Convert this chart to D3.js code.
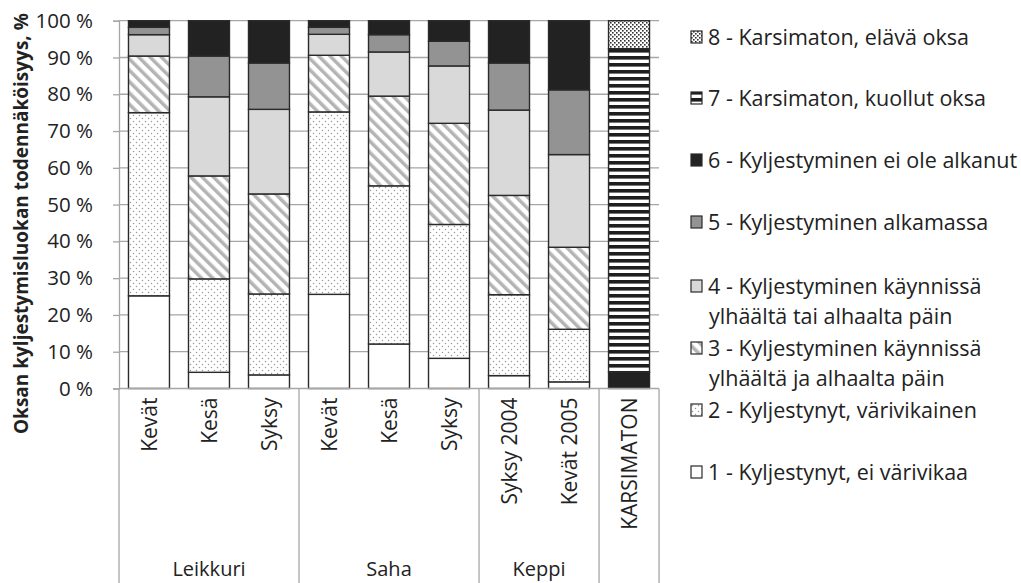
<!DOCTYPE html>
<html>
<head>
<meta charset="utf-8">
<script src="https://cdn.jsdelivr.net/npm/d3@7"></script>
<style>
  body { margin: 0; background: #fff; }
  text { font-family: "Open Sans", Lato, sans-serif; fill: #222; }
</style>
</head>
<body>
<svg id="chart" width="1021" height="583"></svg>
<script>
// categories (inner level) and their groups (outer level)
const categories = ['Kevät', 'Kesä', 'Syksy', 'Kevät', 'Kesä', 'Syksy', 'Syksy 2004', 'Kevät 2005', 'KARSIMATON'];
const groups = ['Leikkuri', 'Leikkuri', 'Leikkuri', 'Saha', 'Saha', 'Saha', 'Keppi', 'Keppi', ''];

// share of each class, %
const class1 = [25.2, 4.4, 3.7, 25.6, 12.1, 8.2, 3.5, 1.8, 0];
const class2 = [49.8, 25.4, 22.0, 49.6, 43.0, 36.4, 22.0, 14.3, 0];
const class3 = [15.4, 28.0, 27.2, 15.4, 24.4, 27.5, 27.0, 22.3, 0];
const class4 = [5.8, 21.5, 23.0, 5.7, 12.0, 15.6, 23.2, 25.2, 0];
const class5 = [2.0, 11.1, 12.6, 1.9, 4.7, 6.7, 12.8, 17.6, 0];
const class6 = [1.8, 9.6, 11.5, 1.8, 3.8, 5.6, 11.5, 18.8, 4.4];
const class7 = [0, 0, 0, 0, 0, 0, 0, 0, 88.0];
const class8 = [0, 0, 0, 0, 0, 0, 0, 0, 7.6];

const classNames = [
  ['1 - Kyljestynyt, ei värivikaa'],
  ['2 - Kyljestynyt, värivikainen'],
  ['3 - Kyljestyminen käynnissä', 'ylhäältä ja alhaalta päin'],
  ['4 - Kyljestyminen käynnissä', 'ylhäältä tai alhaalta päin'],
  ['5 - Kyljestyminen alkamassa'],
  ['6 - Kyljestyminen ei ole alkanut'],
  ['7 - Karsimaton, kuollut oksa'],
  ['8 - Karsimaton, elävä oksa']
];
const yTicks = [0, 10, 20, 30, 40, 50, 60, 70, 80, 90, 100];

const series = [class1, class2, class3, class4, class5, class6, class7, class8];
const keys = series.map((s, i) => 'c' + (i + 1));
const rows = categories.map((c, j) => {
  const r = { idx: j };
  series.forEach((s, i) => r[keys[i]] = s[j]);
  return r;
});

const svg = d3.select('#chart');
const plotLeft = 119, plotRight = 659, plotTop = 20.7, plotBottom = 388.5;
const fontSize = 21;

const x = d3.scaleBand().domain(d3.range(categories.length)).range([plotLeft, plotRight])
  .paddingInner(0.317).paddingOuter(0.158);
const y = d3.scaleLinear().domain([0, 100]).range([plotBottom, plotTop]);

// patterns
const defs = svg.append('defs');
const p2 = defs.append('pattern').attr('id', 'f2').attr('patternUnits', 'userSpaceOnUse')
  .attr('width', 6).attr('height', 6);
p2.append('rect').attr('width', 6).attr('height', 6).attr('fill', '#fff');
p2.append('circle').attr('cx', 1.5).attr('cy', 1.5).attr('r', 0.75).attr('fill', '#9a9a9a');
p2.append('circle').attr('cx', 4.5).attr('cy', 4.5).attr('r', 0.75).attr('fill', '#9a9a9a');

const p3 = defs.append('pattern').attr('id', 'f3').attr('patternUnits', 'userSpaceOnUse')
  .attr('width', 8).attr('height', 8).attr('patternTransform', 'rotate(-45)');
p3.append('rect').attr('width', 8).attr('height', 8).attr('fill', '#fff');
p3.append('rect').attr('width', 3.5).attr('height', 8).attr('fill', '#b4b4b4');

const p7 = defs.append('pattern').attr('id', 'f7').attr('patternUnits', 'userSpaceOnUse')
  .attr('width', 8).attr('height', 7);
p7.append('rect').attr('width', 8).attr('height', 7).attr('fill', '#fff');
p7.append('rect').attr('width', 8).attr('height', 3.6).attr('fill', '#1e1e1e');

const p8 = defs.append('pattern').attr('id', 'f8').attr('patternUnits', 'userSpaceOnUse')
  .attr('width', 4).attr('height', 4);
p8.append('rect').attr('width', 4).attr('height', 4).attr('fill', '#fff');
p8.append('rect').attr('x', 0).attr('y', 0).attr('width', 1.6).attr('height', 1.6).attr('fill', '#333');
p8.append('rect').attr('x', 2).attr('y', 2).attr('width', 1.6).attr('height', 1.6).attr('fill', '#333');

const fills = ['#fff', 'url(#f2)', 'url(#f3)', '#d9d9d9', '#939393', '#222', 'url(#f7)', 'url(#f8)'];

// gridlines
svg.append('g')
  .selectAll('line').data(yTicks.filter(t => t > 0)).join('line')
  .attr('x1', plotLeft).attr('x2', plotRight)
  .attr('y1', d => y(d)).attr('y2', d => y(d))
  .attr('stroke', '#a6a6a6').attr('stroke-width', 1.3);

// y axis
const yAxis = svg.append('g').attr('transform', `translate(${plotLeft},0)`)
  .call(d3.axisLeft(y).tickValues(yTicks).tickFormat(d => d + ' %').tickSize(6).tickPadding(20));
yAxis.select('.domain').attr('stroke', '#a6a6a6').attr('stroke-width', 1.3);
yAxis.selectAll('.tick line').attr('stroke', '#a6a6a6').attr('stroke-width', 1.3);
yAxis.selectAll('.tick text').attr('font-size', 20.5).attr('font-family', '"Open Sans", sans-serif').attr('fill', '#222');

// bars
const stack = d3.stack().keys(keys)(rows);
svg.append('g').selectAll('g').data(stack).join('g')
  .attr('fill', (d, i) => fills[i])
  .selectAll('rect').data(d => d.filter(v => v[1] - v[0] > 0)).join('rect')
  .attr('x', d => x(d.data.idx))
  .attr('width', x.bandwidth())
  .attr('y', d => y(d[1]))
  .attr('height', d => y(d[0]) - y(d[1]))
  .attr('stroke', '#2a2a2a').attr('stroke-width', 1.4);

// x axis line and group separators
const axisG = svg.append('g').attr('stroke', '#a6a6a6').attr('stroke-width', 1.3);
axisG.append('line').attr('x1', plotLeft).attr('x2', plotRight).attr('y1', plotBottom).attr('y2', plotBottom);
const seps = [0];
categories.forEach((c, j) => { if (j > 0 && groups[j] !== groups[j - 1]) seps.push(j); });
seps.push(categories.length);
axisG.selectAll('line.sep').data(seps).join('line').attr('class', 'sep')
  .attr('x1', d => plotLeft + x.step() * d).attr('x2', d => plotLeft + x.step() * d)
  .attr('y1', plotBottom).attr('y2', 583);

// category labels
svg.append('g').selectAll('text').data(categories).join('text')
  .attr('transform', (d, j) => `translate(${x(j) + x.bandwidth() / 2 + 8},${plotBottom + 9}) rotate(-90)`)
  .attr('text-anchor', 'end')
  .attr('font-size', fontSize)
  .text(d => d);

// group labels
const groupNames = [...new Set(groups)].filter(g => g);
svg.append('g').selectAll('text').data(groupNames).join('text')
  .attr('x', g => {
    const idx = groups.map((v, j) => v === g ? j : -1).filter(j => j >= 0);
    return plotLeft + x.step() * (idx[0] + idx[idx.length - 1] + 1) / 2;
  })
  .attr('y', 576)
  .attr('text-anchor', 'middle')
  .attr('font-size', 20)
  .text(g => g);

// y title
svg.append('text')
  .attr('transform', `translate(28,${(plotTop + plotBottom) / 2 + 19}) rotate(-90)`)
  .attr('text-anchor', 'middle')
  .attr('font-size', 19).attr('font-weight', 'bold')
  .text('Oksan kyljestymisluokan todennäköisyys, %');

// legend (reverse order)
const legendY = [37, 98, 160, 222, 286, 348, 410, 472];
const legend = svg.append('g').selectAll('g').data(d3.range(8).reverse()).join('g')
  .attr('transform', (i, k) => `translate(691,${legendY[k]})`);
legend.append('rect')
  .attr('x', 0).attr('y', -6).attr('width', 11).attr('height', 12)
  .attr('fill', i => fills[i]).attr('stroke', '#2a2a2a').attr('stroke-width', 1.2);
legend.append('text')
  .attr('x', 17).attr('y', 0)
  .attr('font-size', 21.5)
  .selectAll('tspan').data(i => classNames[i]).join('tspan')
  .attr('x', (d, k) => k === 0 ? 17 : 18)
  .attr('dy', (d, k) => k === 0 ? '0.35em' : 30)
  .text(d => d);
</script>
</body>
</html>
